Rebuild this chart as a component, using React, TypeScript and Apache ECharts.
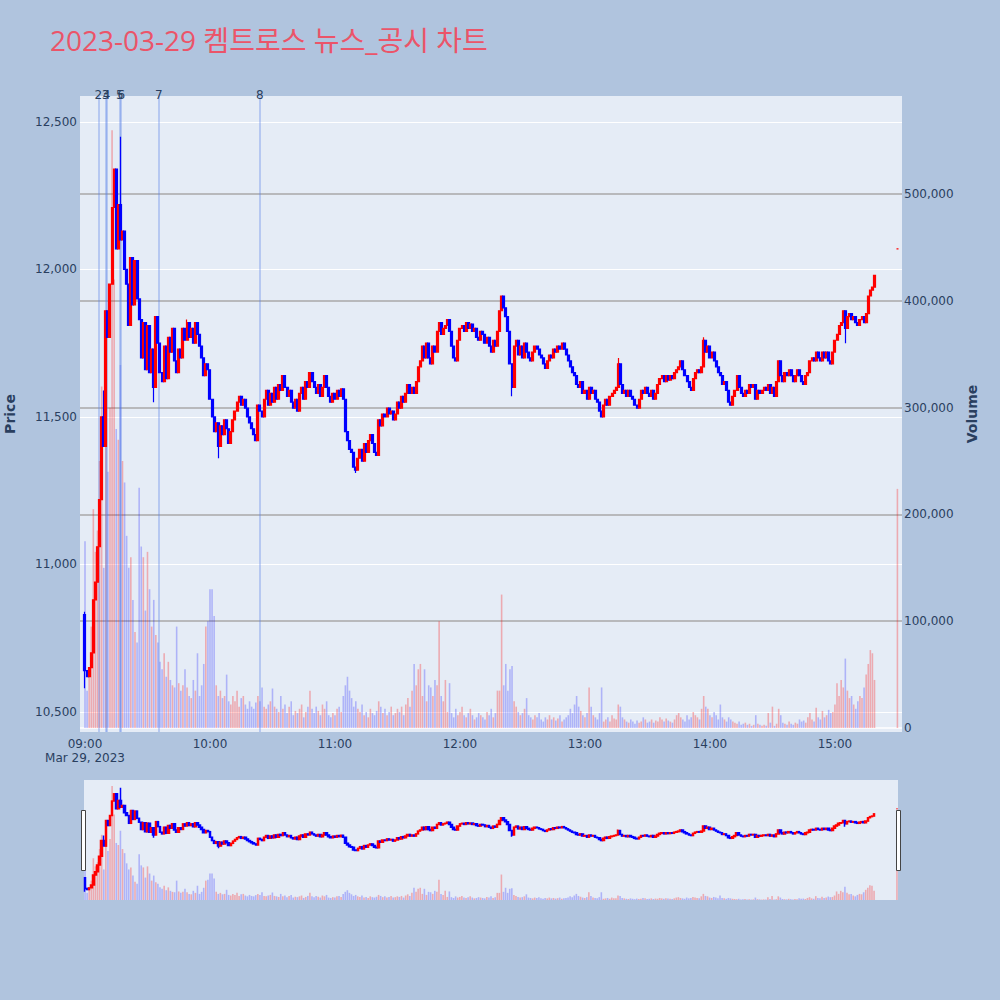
import { useEffect, useRef } from 'react';
import * as echarts from 'echarts';

const TITLE = '2023-03-29 켐트로스 뉴스_공시 차트';
const DATE_LABEL = 'Mar 29, 2023';
const SESSION_START_HOUR = 9;

// one candle per minute from 09:00 (minute 0) to 15:19 (minute 379)
const FIRST_OPEN = 10830;
const closes: number[] = [
  10640, 10620, 10650, 10700, 10880, 10940, 11060, 11220, 11500, 11400,
  11860, 11770, 11950, 12210, 12340, 12070, 12220, 12100, 12130, 12000,
  11950, 11810, 12040, 11880, 12030, 11900, 11830, 11700, 11820, 11660,
  11810, 11650, 11730, 11600, 11840, 11750, 11650, 11620, 11740, 11630,
  11770, 11720, 11800, 11690, 11650, 11730, 11700, 11800, 11760, 11820,
  11770, 11800, 11750, 11820, 11780, 11740, 11700, 11640, 11680, 11660,
  11560, 11500, 11450, 11480, 11400, 11470, 11440, 11490, 11460, 11410,
  11450, 11490, 11520, 11550, 11570, 11540, 11560, 11530, 11500, 11480,
  11460, 11440, 11420, 11540, 11520, 11500, 11560, 11590, 11540, 11580,
  11550, 11600, 11560, 11610, 11590, 11640, 11600, 11570, 11590, 11550,
  11530, 11560, 11520, 11580, 11600, 11560, 11620, 11600, 11650, 11620,
  11600, 11580, 11610, 11570, 11600, 11640, 11600, 11570, 11550, 11580,
  11560, 11590, 11570, 11595, 11560, 11450, 11420, 11390, 11380, 11330,
  11320, 11360, 11390, 11350, 11410, 11380, 11420, 11440, 11410, 11380,
  11370, 11490, 11470, 11510, 11500, 11530, 11510, 11520, 11490, 11510,
  11550, 11530, 11570, 11550, 11580, 11610, 11580, 11600, 11580, 11620,
  11670, 11690, 11740, 11700, 11750, 11700, 11680, 11740, 11720, 11790,
  11820, 11780, 11800, 11810, 11830, 11790, 11740, 11700, 11690, 11760,
  11800, 11810, 11790, 11820, 11800, 11815, 11790, 11800, 11770, 11760,
  11790, 11780, 11750, 11770, 11740, 11720, 11760, 11740, 11790, 11860,
  11910, 11870, 11840, 11790, 11680, 11600, 11740, 11760, 11710, 11740,
  11700, 11750, 11720, 11700, 11690, 11720, 11740, 11730, 11710, 11700,
  11680, 11665, 11690, 11710, 11700, 11730, 11720, 11740, 11730, 11750,
  11730, 11710, 11690, 11670, 11650, 11640, 11610, 11600, 11620, 11580,
  11590, 11560, 11600, 11580, 11590, 11560, 11550, 11520, 11500, 11540,
  11560, 11540, 11570, 11580, 11590, 11600, 11680, 11610, 11580, 11590,
  11570, 11590, 11570, 11560, 11540, 11530, 11560, 11590, 11580, 11600,
  11580, 11570, 11590, 11560, 11580, 11610, 11630, 11640, 11620, 11640,
  11625, 11640, 11630, 11650, 11660, 11670, 11690, 11660, 11640, 11620,
  11600, 11590, 11630, 11650, 11660, 11650, 11670, 11760, 11720, 11740,
  11700, 11720, 11690, 11670, 11650, 11640, 11610, 11620, 11590, 11550,
  11540, 11570, 11590, 11640, 11600, 11580, 11570, 11590, 11580, 11610,
  11600, 11610, 11560, 11590, 11580, 11590, 11600, 11590, 11610, 11580,
  11600, 11570, 11620, 11690, 11640, 11620, 11650, 11640, 11660, 11640,
  11620, 11640, 11660, 11640, 11620, 11610, 11640, 11650, 11690, 11700,
  11690, 11720, 11700, 11690, 11720, 11700, 11720, 11690, 11680, 11720,
  11760, 11780, 11810, 11820, 11860, 11800, 11840, 11850, 11830, 11840,
  11820, 11810, 11830, 11840, 11820, 11850, 11910, 11930, 11940, 11980,
];

const volumes: number[] = [
  175000, 35000, 50000, 95000, 205000, 165000, 185000, 250000, 320000, 150000,
  380000, 240000, 300000, 560000, 420000, 280000, 270000, 340000, 250000, 230000,
  180000, 150000, 160000, 120000, 90000, 80000, 225000, 170000, 160000, 110000,
  165000, 130000, 95000, 120000, 87000, 80000, 62000, 55000, 70000, 48000,
  62000, 45000, 40000, 38000, 95000, 42000, 35000, 40000, 55000, 38000,
  30000, 28000, 45000, 35000, 70000, 30000, 40000, 60000, 95000, 100000,
  130000, 130000, 105000, 40000, 30000, 35000, 28000, 30000, 50000, 25000,
  22000, 30000, 25000, 35000, 20000, 28000, 30000, 22000, 18000, 25000,
  20000, 18000, 24000, 30000, 25000, 38000, 20000, 18000, 22000, 25000,
  37000, 20000, 18000, 15000, 30000, 18000, 22000, 14000, 20000, 25000,
  12000, 16000, 14000, 18000, 22000, 10000, 15000, 20000, 35000, 18000,
  14000, 20000, 16000, 12000, 22000, 18000, 25000, 12000, 10000, 14000,
  12000, 18000, 20000, 15000, 30000, 40000, 48000, 35000, 28000, 20000,
  25000, 18000, 15000, 22000, 12000, 15000, 10000, 18000, 14000, 12000,
  16000, 25000, 20000, 14000, 18000, 12000, 15000, 20000, 12000, 14000,
  18000, 15000, 20000, 12000, 22000, 28000, 20000, 35000, 60000, 40000,
  55000, 60000, 30000, 55000, 25000, 40000, 38000, 30000, 45000, 40000,
  100000, 30000, 25000, 45000, 15000, 42000, 14000, 10000, 18000, 12000,
  15000, 20000, 12000, 10000, 14000, 18000, 12000, 8000, 10000, 14000,
  12000, 10000, 8000, 15000, 12000, 18000, 10000, 14000, 35000, 35000,
  125000, 40000, 60000, 35000, 55000, 58000, 25000, 20000, 15000, 12000,
  14000, 18000, 28000, 12000, 10000, 8000, 12000, 10000, 14000, 8000,
  6000, 10000, 8000, 12000, 8000, 10000, 7000, 9000, 12000, 6000,
  8000, 10000, 12000, 18000, 14000, 22000, 30000, 20000, 16000, 12000,
  10000, 14000, 38000, 20000, 12000, 10000, 8000, 14000, 38000, 6000,
  8000, 10000, 6000, 12000, 9000, 8000, 22000, 20000, 10000, 8000,
  6000, 5000, 8000, 6000, 4000, 7000, 5000, 6000, 10000, 8000,
  5000, 6000, 8000, 5000, 7000, 6000, 10000, 8000, 6000, 9000,
  7000, 6000, 5000, 8000, 12000, 14000, 10000, 8000, 6000, 12000,
  8000, 10000, 15000, 12000, 10000, 8000, 18000, 30000, 20000, 18000,
  12000, 10000, 15000, 12000, 8000, 22000, 10000, 8000, 6000, 10000,
  8000, 6000, 5000, 4000, 6000, 3000, 4000, 5000, 3000, 4000,
  2000, 3000, 12000, 4000, 3000, 2000, 3000, 2000, 14000, 5000,
  20000, 2000, 4000, 18000, 12000, 5000, 4000, 3000, 6000, 4000,
  3000, 5000, 4000, 8000, 6000, 7000, 5000, 10000, 14000, 8000,
  6000, 19000, 10000, 8000, 16000, 10000, 12000, 17000, 14000, 15000,
  22000, 42000, 30000, 45000, 38000, 65000, 35000, 28000, 30000, 22000,
  18000, 25000, 30000, 28000, 38000, 50000, 60000, 73000, 70000, 45000,
];

// wick extremes that go beyond the candle body: [minute, price]
const wickHighs: [number, number][] = [
  [0, 10840], [9, 11590], [17, 12450], [49, 11830], [256, 11700], [297, 11770],
];
const wickLows: [number, number][] = [
  [0, 10580], [33, 11550], [64, 11360], [130, 11310], [205, 11570], [365, 11750],
];

// closing single-price auction at 15:30
const auctionMinute = 390;
const auctionPrice = 12070;
const auctionVolume = 224000;

// news / disclosure markers
const newsMinutes = [6.4, 9.9, 10.4, 16.7, 17.4, 35.4, 83.9];
const newsLabels = ['2', '3', '4', '5', '6', '7', '8'];

// axis ranges
const PRICE_MIN = 10432;
const PRICE_MAX = 12588;
const VOL_MIN = -3750;
const VOL_MAX = 592000;
const X_MIN = -2.4;
const X_MAX = 392.2;

const INK = '#2a3f5f';
const TITLE_FONT = "'Open Sans', 'Noto Sans CJK KR', sans-serif";
const AXIS_FONT = "'DejaVu Sans', Verdana, sans-serif";
const RED = '#ff0000';
const BLUE = '#0000ff';
const RED_A = 'rgba(255,0,0,0.28)';
const BLUE_A = 'rgba(0,0,255,0.24)';
const PLOT_BG = '#E5ECF6';
const PAGE_BG = '#B0C4DE';

function buildCandles() {
  const rows: number[][] = closes.map((c, i) => {
    const o = i === 0 ? FIRST_OPEN : closes[i - 1];
    let h = Math.max(o, c);
    let l = Math.min(o, c);
    for (const [m, p] of wickHighs) if (m === i) h = Math.max(h, p);
    for (const [m, p] of wickLows) if (m === i) l = Math.min(l, p);
    return [i, o, c, l, h];
  });
  rows.push([auctionMinute, auctionPrice, auctionPrice, auctionPrice, auctionPrice]);
  return rows;
}

// [minute, volume, up(1)/down(0)]
function buildVolumes() {
  const rows: number[][] = volumes.map((v, i) => {
    const o = i === 0 ? FIRST_OPEN : closes[i - 1];
    return [i, v, closes[i] >= o ? 1 : 0];
  });
  rows.push([auctionMinute, auctionVolume, 1]);
  return rows;
}

function volumeBar(params: any, api: any) {
  const x = api.value(0);
  const v = api.value(1);
  const up = api.value(2) === 1;
  const top = api.coord([x, v]);
  const base = api.coord([x, 0]);
  return {
    type: 'rect',
    shape: { x: top[0] - 0.8, y: top[1], width: 1.6, height: base[1] - top[1] },
    style: { fill: up ? RED_A : BLUE_A },
  };
}

function fmtTime(v: number) {
  if (Math.abs(v % 60) > 1e-6) return '';
  const h = SESSION_START_HOUR + Math.round(v / 60);
  const s = (h < 10 ? '0' : '') + h + ':00';
  return v === 0 ? s + '\n' + DATE_LABEL : s;
}

export default function App() {
  const ref = useRef<HTMLDivElement>(null);
  useEffect(() => {
    document.body.style.margin = '0';
    document.body.style.background = PAGE_BG;
    const chart = echarts.init(ref.current!, null, { renderer: 'svg' });
    const candles = buildCandles();
    const vols = buildVolumes();
    const candleStyle = {
      color: RED, color0: BLUE, borderColor: RED, borderColor0: BLUE, borderWidth: 1.2,
    };
    chart.setOption({
      animation: false,
      backgroundColor: PAGE_BG,
      textStyle: { fontFamily: AXIS_FONT },
      graphic: [
        {
          type: 'text', left: 50, top: 26, z: 10,
          style: { text: TITLE, fill: '#eb5469', fontSize: 28, fontFamily: TITLE_FONT },
        },
        {
          type: 'rect', shape: { x: 81.5, y: 810.5, width: 4, height: 60 }, z: 20,
          style: { fill: '#ffffff', stroke: '#444444', lineWidth: 1 },
        },
        {
          type: 'rect', shape: { x: 896.5, y: 810.5, width: 4, height: 60 }, z: 20,
          style: { fill: '#ffffff', stroke: '#444444', lineWidth: 1 },
        },
      ],
      grid: [
        {
          left: 80, top: 96, width: 822, height: 636, show: true, backgroundColor: PLOT_BG, borderWidth: 0,
          containLabel: false, outerBoundsMode: 'none',
        },
        {
          left: 84, top: 780, width: 814, height: 120, show: true, backgroundColor: PLOT_BG, borderWidth: 0,
          containLabel: false, outerBoundsMode: 'none',
        },
      ],
      xAxis: [
        {
          type: 'value', gridIndex: 0, min: X_MIN, max: X_MAX,
          minInterval: 60, maxInterval: 60, splitNumber: 6,
          axisLine: { show: false }, axisTick: { show: false }, splitLine: { show: false },
          axisLabel: {
            color: INK, fontSize: 12, margin: 5, lineHeight: 14, fontFamily: AXIS_FONT, formatter: fmtTime,
          },
        },
        { type: 'value', gridIndex: 1, min: -0.5, max: 390.5, show: false },
      ],
      yAxis: [
        {
          type: 'value', gridIndex: 0, position: 'left', min: PRICE_MIN, max: PRICE_MAX,
          minInterval: 500, maxInterval: 500, splitNumber: 4,
          name: 'Price', nameLocation: 'middle', nameGap: 63, nameRotate: 90,
          nameTextStyle: { color: INK, fontSize: 14, fontWeight: 'bold', fontFamily: AXIS_FONT },
          axisLine: { show: false }, axisTick: { show: false },
          axisLabel: {
            color: INK, fontSize: 12, margin: 3, fontFamily: AXIS_FONT,
            formatter: (v: number) => (v % 500 === 0 ? v.toLocaleString('en-US') : ''),
          },
          splitLine: { show: true, showMinLine: false, showMaxLine: false, lineStyle: { color: '#ffffff', width: 1 } },
        },
        {
          type: 'value', gridIndex: 0, position: 'right', min: VOL_MIN, max: VOL_MAX,
          minInterval: 100000, maxInterval: 100000, splitNumber: 5,
          name: 'Volume', nameLocation: 'middle', nameGap: 63, nameRotate: 90,
          nameTextStyle: { color: INK, fontSize: 14, fontWeight: 'bold', fontFamily: AXIS_FONT },
          axisLine: { show: false }, axisTick: { show: false },
          axisLabel: {
            color: INK, fontSize: 12, margin: 2, fontFamily: AXIS_FONT,
            formatter: (v: number) => (v % 100000 === 0 ? v.toLocaleString('en-US') : ''),
          },
          splitLine: {
            show: true, showMinLine: false, showMaxLine: false,
            lineStyle: { color: ['#ffffff', '#a9a9a9', '#a9a9a9', '#a9a9a9', '#a9a9a9', '#a9a9a9'], width: 1.5 },
          },
        },
        { type: 'value', gridIndex: 1, min: PRICE_MIN, max: PRICE_MAX, show: false },
        { type: 'value', gridIndex: 1, min: 0, max: 589000, show: false },
      ],
      series: [
        {
          name: 'Volume', type: 'custom', xAxisIndex: 0, yAxisIndex: 1, z: 2,
          encode: { x: 0, y: 1 },
          renderItem: volumeBar,
          data: vols,
          markLine: {
            silent: true, symbol: ['none', 'none'], animation: false,
            lineStyle: { color: 'rgba(90,130,230,0.45)', width: 1.5, type: 'solid' },
            label: { show: true, position: 'end', distance: -5, color: INK, fontSize: 12, fontFamily: AXIS_FONT },
            data: newsMinutes.map((m, i) => ({ xAxis: m, label: { formatter: newsLabels[i] } })),
          },
        },
        {
          name: 'Price', type: 'candlestick', xAxisIndex: 0, yAxisIndex: 0, z: 5,
          dimensions: ['t', 'open', 'close', 'lowest', 'highest'],
          encode: { x: 0, y: [1, 2, 3, 4] },
          barWidth: 2.5, large: false,
          itemStyle: candleStyle,
          data: candles,
        },
        {
          name: 'VolumeMini', type: 'custom', xAxisIndex: 1, yAxisIndex: 3, z: 2,
          encode: { x: 0, y: 1 },
          renderItem: volumeBar,
          data: vols,
        },
        {
          name: 'PriceMini', type: 'candlestick', xAxisIndex: 1, yAxisIndex: 2, z: 5,
          dimensions: ['t', 'open', 'close', 'lowest', 'highest'],
          encode: { x: 0, y: [1, 2, 3, 4] },
          barWidth: 2, large: false,
          itemStyle: { ...candleStyle, borderWidth: 1.5 },
          data: candles,
        },
      ],
    });
    return () => chart.dispose();
  }, []);
  return <div ref={ref} style={{ width: 1000, height: 1000 }} />;
}
